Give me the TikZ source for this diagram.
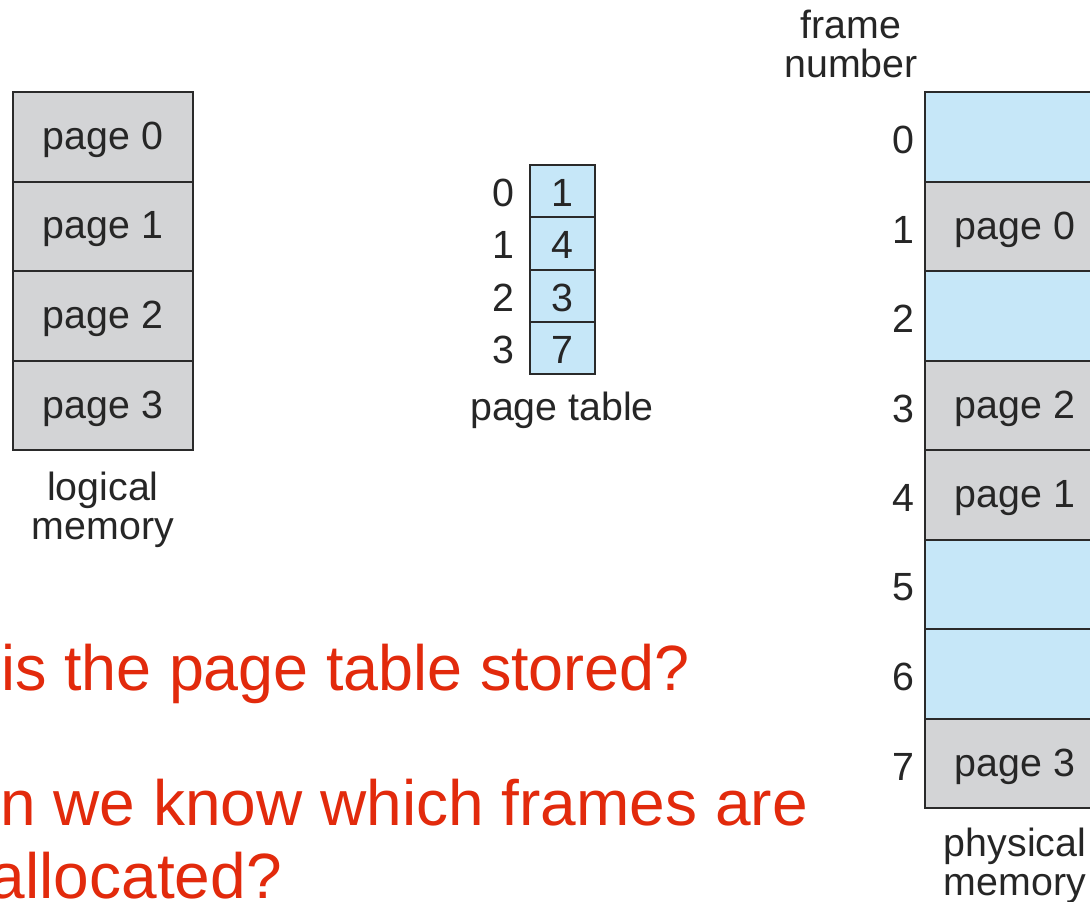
\documentclass[tikz,border=0pt]{standalone}
\usepackage{fontspec}
\setmainfont{Liberation Sans}
\definecolor{cellblue}{HTML}{C6E7F8}
\definecolor{cellgray}{HTML}{D3D4D6}
\definecolor{edge}{HTML}{2A2A2A}
\definecolor{qred}{HTML}{E22A0C}
\begin{document}
\begin{tikzpicture}[x=0.75pt,y=-0.75pt,
  lbl/.style={font=\fontsize{29.5}{29.5}\selectfont, text=black!85, inner sep=0pt, align=center},
  gcell/.style={fill=cellgray, draw=edge, line width=1.5pt},
  bcell/.style={fill=cellblue, draw=edge, line width=1.5pt},
  question/.style={font=\fontsize{48}{48}\selectfont, text=qred, inner sep=0pt, anchor=base east}]
\useasboundingbox (0,0) rectangle (1090,901);
\clip (0,0) rectangle (1090,901);
\fill[white] (0,0) rectangle (1090,901);
% logical memory
\foreach \i/\y in {0/92,1/181.5,2/271,3/360.5}{
  \draw[gcell] (13,\y) rectangle (193,\y+89.5);
  \node[lbl] (lp\i) at (103,\y+48) {page \i};
}
\node[lbl] (logical) at (103,510) {logical\\memory};
% page table
\foreach \i/\v in {0/1,1/4,2/3,3/7}{
  \draw[bcell] (530,165+\i*52.25) rectangle (595,165+\i*52.25+52.25);
  \node[lbl] (pt\i) at (562.5,193+\i*52.25) {\v};
  \node[lbl] (pi\i) at (503,193+\i*52.25) {\i};
}
\node[lbl] (ptlabel) at (562,410) {page table};
% physical memory
\node[lbl] (frame) at (851,44) {frame\\number};
\foreach \i/\s/\t in {0/bcell/,1/gcell/page 0,2/bcell/,3/gcell/page 2,4/gcell/page 1,5/bcell/,6/bcell/,7/gcell/page 3}{
  \draw[\s] (925,92+\i*89.5) rectangle (1105,92+\i*89.5+89.5);
  \node[lbl] (pm\i) at (1015,92+\i*89.5+48) {\t};
  \node[lbl] (fn\i) at (903,92+\i*89.5+48) {\i};
}
\node[lbl] (physical) at (1015,866) {physical\\memory};
% questions
\node[question, xscale=0.982, transform shape] (q1) at (690,690) {is the page table stored?};
\node[question] (q2) at (808,825) {n we know which frames are};
\node[question] (q3) at (282,898) {allocated?};
\end{tikzpicture}
\end{document}
